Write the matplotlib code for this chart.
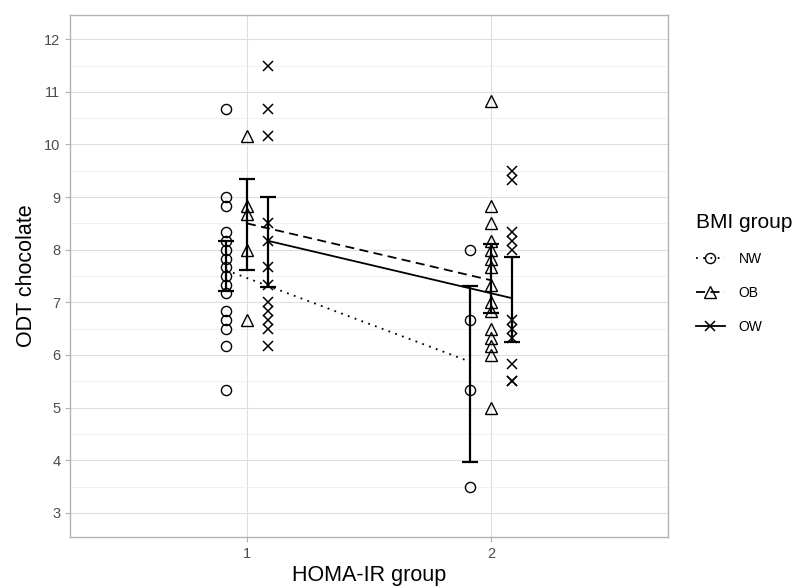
import numpy as np
import matplotlib
matplotlib.use('Agg')
import matplotlib.pyplot as plt
from matplotlib.lines import Line2D

plt.rcParams['font.family'] = ['Liberation Sans', 'DejaVu Sans']

# ---------- data ----------
groups = ['1', '2']               # HOMA-IR group
bmi = ['NW', 'OB', 'OW']          # BMI group

nw_1 = [10.67, 9.0, 8.83, 8.33, 8.17, 8.0, 7.83, 7.67, 7.5, 7.33, 7.17, 6.83, 6.67, 6.5, 6.17, 5.33]
nw_2 = [8.0, 6.67, 5.33, 3.5]
ob_1 = [10.17, 8.83, 8.67, 8.0, 6.67]
ob_2 = [10.83, 8.83, 8.5, 8.17, 8.0, 7.83, 7.67, 7.33, 7.0, 6.83, 6.5, 6.33, 6.17, 6.0, 5.0]
ow_1 = [11.5, 10.67, 10.17, 8.5, 8.17, 7.67, 7.33, 7.0, 6.83, 6.67, 6.5, 6.17]
ow_2 = [9.5, 9.33, 8.33, 8.17, 8.0, 6.67, 6.5, 6.33, 5.83, 5.5, 5.5]

# group means (line ends) and error bar limits
nw_mean = [7.61, 5.87]
ob_mean = [8.50, 7.42]
ow_mean = [8.17, 7.08]
nw_lo, nw_hi = [7.22, 3.96], [8.16, 7.31]
ob_lo, ob_hi = [7.61, 6.80], [9.34, 8.10]
ow_lo, ow_hi = [7.30, 6.25], [9.00, 7.86]

points = {'NW': [nw_1, nw_2], 'OB': [ob_1, ob_2], 'OW': [ow_1, ow_2]}
means = {'NW': nw_mean, 'OB': ob_mean, 'OW': ow_mean}
lows = {'NW': nw_lo, 'OB': ob_lo, 'OW': ow_lo}
highs = {'NW': nw_hi, 'OB': ob_hi, 'OW': ow_hi}

# ---------- style ----------
dodge = {'NW': -0.085, 'OB': 0.0, 'OW': 0.085}
marker = {'NW': 'o', 'OB': '^', 'OW': 'x'}
msize = {'NW': 7.3, 'OB': 8.3, 'OW': 7.3}
lstyle = {'NW': (0, (1, 3)), 'OB': (0, (5, 3)), 'OW': '-'}

def mkw(b):
    # open markers like ggplot shapes 1, 2, 4
    if marker[b] == 'x':
        return dict(marker='x', ms=msize[b], mew=1.1, color='black')
    return dict(marker=marker[b], ms=msize[b], mew=1.0, mfc='none', mec='black', color='black')

fig = plt.figure(figsize=(7.98, 5.88), dpi=100)
ax = fig.add_axes([0.0877, 0.0867, 0.7493, 0.8878])

xs = np.arange(1, len(groups) + 1)
for b in bmi:
    xd = xs + dodge[b]
    # raw points
    for i, vals in enumerate(points[b]):
        ax.plot(np.full(len(vals), xd[i]), vals, ls='none', zorder=3, **mkw(b))
    # mean line
    ax.plot(xd, means[b], ls=lstyle[b], lw=1.3, color='black', zorder=4)
    # error bars
    lo = np.array(means[b]) - np.array(lows[b])
    hi = np.array(highs[b]) - np.array(means[b])
    ax.errorbar(xd, means[b], yerr=[lo, hi], fmt='none', ecolor='black',
                elinewidth=1.6, capsize=6, capthick=1.6, zorder=5)

ax.set_xlim(0.275, 2.725)
ax.set_ylim(2.54, 12.46)
ax.set_xticks(xs)
ax.set_xticklabels(groups)
ax.set_yticks(np.arange(3, 13))
ax.set_yticks(np.arange(3.5, 12.5, 1), minor=True)

# theme_light look
ax.grid(which='major', color='#dedede', lw=0.8)
ax.grid(which='minor', axis='y', color='#ececec', lw=0.5)
ax.set_axisbelow(True)
for s in ax.spines.values():
    s.set_color('#b3b3b3')
    s.set_linewidth(1.0)
ax.tick_params(which='major', length=3.5, color='#b3b3b3', labelsize=10.5, labelcolor='#4d4d4d')
ax.tick_params(which='minor', length=0)

ax.set_xlabel('HOMA-IR group', fontsize=15.5, labelpad=3)
ax.set_ylabel('ODT chocolate', fontsize=15.5, labelpad=5)

# legend
handles = [Line2D([], [], ls=lstyle[b], lw=1.3, **mkw(b)) for b in bmi]
leg = fig.legend(handles, bmi, title='BMI group', loc='center left',
                 bbox_to_anchor=(0.856, 0.535), frameon=False, fontsize=10,
                 title_fontsize=15, handlelength=2.1, handletextpad=1.0,
                 labelspacing=1.45)
leg._legend_box.align = 'left'

plt.savefig('out.png', dpi=100)
plt.close()
